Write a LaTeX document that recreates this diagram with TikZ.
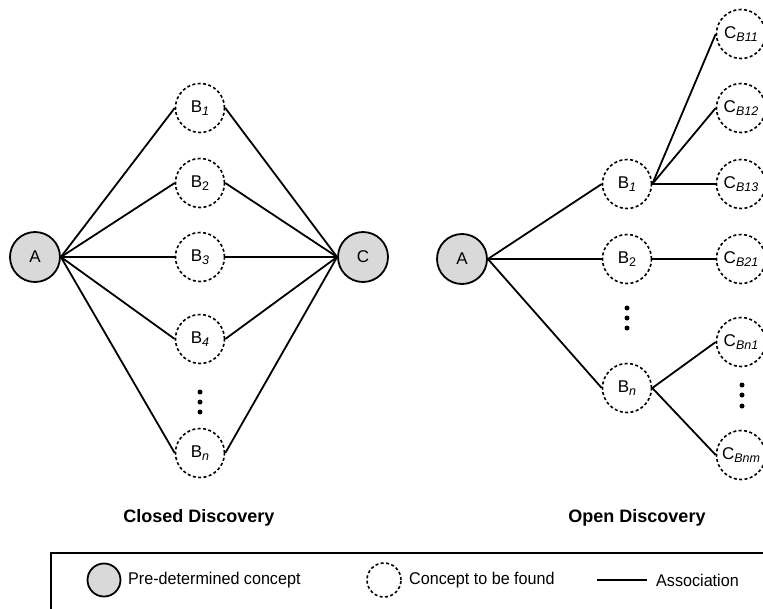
\documentclass[tikz,border=0pt]{standalone}
\usepackage{fontspec}
\setmainfont{Liberation Sans}
\begin{document}
\begin{tikzpicture}[x=1pt,y=-1pt,
  every node/.style={font=\fontsize{17}{19}\selectfont},
  given/.style={circle,draw,line width=1.8pt,fill=black!15,minimum size=50pt,inner sep=0pt},
  sought/.style={circle,draw,line width=1.6pt,dash pattern=on 3pt off 2.4pt,minimum size=49pt,inner sep=0pt},
  assoc/.style={line width=1.8pt},
  dotmark/.style={circle,fill=black,inner sep=0pt,minimum size=5pt},
  title/.style={font=\fontsize{18}{22}\selectfont\bfseries},
  legtext/.style={anchor=west,inner sep=0pt,font=\fontsize{17}{20}\selectfont\addfontfeature{FakeStretch=0.95}}]
% subscripts: italic and upright
\newcommand{\sbi}[1]{\raisebox{-3.5pt}{\fontsize{12.5}{12}\selectfont\itshape #1}}
\newcommand{\sbu}[1]{\raisebox{-3.5pt}{\fontsize{12.5}{12}\selectfont #1}}
\clip (0,0) rectangle (763,608);

% ---- closed discovery ----
\node[given] (cA) at (35,257) {A};
\node[given] (cC) at (363,257) {C};
\node[sought] (cB1) at (200,108) {B\sbi{1}};
\node[sought] (cB2) at (200,183) {B\sbu{2}};
\node[sought] (cB3) at (200,257) {B\sbi{3}};
\node[sought] (cB4) at (200,339) {B\sbi{4}};
\node[sought] (cBn) at (200,453) {B\sbi{n}};
\foreach \b in {cB1,cB2,cB3,cB4,cBn}{
  \draw[assoc] (cA.east) -- (\b.west);
  \draw[assoc] (\b.east) -- (cC.west);
}
\node[dotmark] (cd1) at (200,392) {};
\node[dotmark] (cd2) at (200,402) {};
\node[dotmark] (cd3) at (200,412) {};
\node[title] (ctitle) at (199,518) {Closed Discovery};

% ---- open discovery ----
\node[given] (oA) at (462,259) {A};
\node[sought] (oB1) at (627,184) {B\sbi{1}};
\node[sought] (oB2) at (627,259) {B\sbu{2}};
\node[sought] (oBn) at (627,388) {B\sbi{n}};
\node[dotmark] (od1) at (627,308) {};
\node[dotmark] (od2) at (627,318) {};
\node[dotmark] (od3) at (627,328) {};
\node[sought] (oC11) at (741,34) {C\sbi{B11}};
\node[sought] (oC12) at (741,108) {C\sbi{B12}};
\node[sought] (oC13) at (741,184) {C\sbi{B13}};
\node[sought] (oC21) at (741,259) {C\sbi{B21}};
\node[sought] (oCn1) at (741,342) {C\sbi{Bn1}};
\node[sought] (oCnm) at (741,455) {C\sbi{Bnm}};
\node[dotmark] (oe1) at (742,385) {};
\node[dotmark] (oe2) at (742,395) {};
\node[dotmark] (oe3) at (742,406) {};
\foreach \b in {oB1,oB2,oBn}
  \draw[assoc] (oA.east) -- (\b.west);
\foreach \c in {oC11,oC12,oC13}
  \draw[assoc] (oB1.east) -- (\c.west);
\draw[assoc] (oB2.east) -- (oC21.west);
\draw[assoc] (oBn.east) -- (oCn1.west);
\draw[assoc] (oBn.east) -- (oCnm.west);
\node[title] (otitle) at (637,518) {Open Discovery};

% ---- legend ----
\draw[line width=1.8pt] (51,640) -- (51,553) -- (800,553);
\node[given,minimum size=33pt] (lg) at (104,580) {};
\node[legtext] (lgt) at (128,580) {Pre-determined concept};
\node[sought,minimum size=34pt] (ls) at (384,580) {};
\node[legtext] (lst) at (409,580) {Concept to be found};
\coordinate (la) at (597,580);
\coordinate (lb) at (647,580);
\draw[assoc] (la) -- (lb);
\node[legtext] (lat) at (656,580) {Association};
\end{tikzpicture}
\end{document}
